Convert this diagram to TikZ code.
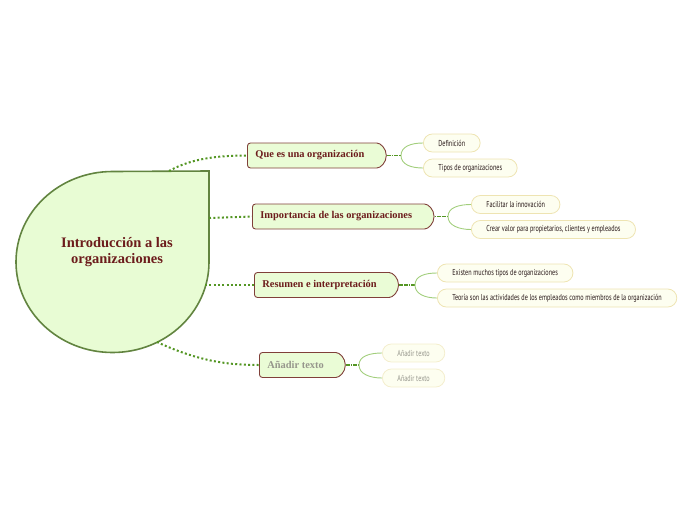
\documentclass[tikz,border=0pt]{standalone}
\usepackage{fontspec}
\setmainfont{Liberation Serif}
\newfontfamily\leaffont[FakeStretch=0.72]{PT Sans}
\usetikzlibrary{shapes.misc}

\definecolor{rootfill}{RGB}{232,252,212}
\definecolor{rootline}{RGB}{98,132,64}
\definecolor{topicfill}{RGB}{234,252,214}
\definecolor{topicline}{RGB}{128,64,58}
\definecolor{topictext}{RGB}{108,28,28}
\definecolor{dotgreen}{RGB}{84,150,36}
\definecolor{leaffill}{RGB}{253,254,240}
\definecolor{leafline}{RGB}{238,228,178}
\definecolor{leaftext}{RGB}{40,24,24}
\definecolor{forkgreen}{RGB}{162,206,124}
\definecolor{ghosttext}{RGB}{150,150,140}
\definecolor{ghostline}{RGB}{244,238,205}

\begin{document}
\begin{tikzpicture}[x=1pt, y=-1pt,
  topic/.style={rounded rectangle, rounded rectangle left arc=none, rounded corners=3pt,
    draw=topicline, line width=0.9pt, fill=topicfill, text=topictext,
    font=\fontsize{10.4}{12}\selectfont\bfseries, inner xsep=8pt, minimum height=25pt,
    anchor=west, execute at end node=\hspace{13pt}},
  leaf/.style={rectangle, rounded corners=9pt, draw=leafline, line width=0.8pt, fill=leaffill,
    text=leaftext, font=\leaffont\fontsize{8.6}{9}\selectfont, inner xsep=15pt,
    minimum height=18pt, inner ysep=0pt, anchor=west},
  ghostleaf/.style={leaf, draw=ghostline, text=ghosttext},
  dotlink/.style={draw=dotgreen, line width=2pt, dash pattern=on 2pt off 2.3pt},
  stublink/.style={draw=dotgreen, line width=1.8pt, dash pattern=on 1.8pt off 0.6pt},
  forklink/.style={draw=forkgreen, line width=0.9pt}]
  \useasboundingbox (0,0) rectangle (696,520);

  % central topic
  \draw[rootline, line width=1.6pt, fill=rootfill]
    (209,171) -- (209,262) arc (0:270:96.5 and 90.5) -- cycle;
  \node[text=topictext, font=\fontsize{14.5}{16.5}\selectfont\bfseries, align=center]
    (root) at (117,252) {Introducción a las\\organizaciones};
  \coordinate (r1) at (169,171);
  \coordinate (r2) at (209,218);
  \coordinate (r3) at (205,285);
  \coordinate (r4) at (157,342);

  % main topics
  \node[topic] (que) at (247,155.5) {Que es una organización};
  \node[topic] (imp) at (252,216.5) {Importancia de las organizaciones};
  \node[topic] (res) at (254,285) {Resumen e interpretación};
  \node[topic, text=ghosttext] (add) at (259,365) {Añadir texto};

  \draw[dotlink] (r1) .. controls (192,158) and (220,155.5) .. (que.west);
  \draw[dotlink] (r2) -- (imp.west);
  \draw[dotlink] (r3) -- (res.west);
  \draw[dotlink] (r4) .. controls (200,362) and (230,365) .. (add.west);

  % leaves
  \node[leaf] (def) at (423,143) {Definición};
  \node[leaf] (tip) at (423,168) {Tipos de organizaciones};
  \node[leaf] (fac) at (471,204.5) {Facilitar la innovación};
  \node[leaf] (cre) at (471,229.5) {Crear valor para propietarios, clientes y empleados};
  \node[leaf] (exi) at (437,273) {Existen muchos tipos de organizaciones};
  \node[leaf] (teo) at (437,298) {Teoría son las actividades de los empleados como miembros de la organización};
  \node[ghostleaf] (ad1) at (382,353) {Añadir texto};
  \node[ghostleaf] (ad2) at (382,378) {Añadir texto};

  \coordinate (f1) at (401,155.5);
  \coordinate (f2) at (448,216.5);
  \coordinate (f3) at (415,285);
  \coordinate (f4) at (359,365);

  \draw[stublink] (que.east) -- (f1);
  \draw[stublink] (imp.east) -- (f2);
  \draw[stublink] (res.east) -- (f3);
  \draw[stublink] (add.east) -- (f4);

  \draw[forklink] (f1) .. controls +(0,-9) and +(-12,0) .. (def.west);
  \draw[forklink] (f1) .. controls +(0,9) and +(-12,0) .. (tip.west);
  \draw[forklink] (f2) .. controls +(0,-9) and +(-12,0) .. (fac.west);
  \draw[forklink] (f2) .. controls +(0,9) and +(-12,0) .. (cre.west);
  \draw[forklink] (f3) .. controls +(0,-9) and +(-12,0) .. (exi.west);
  \draw[forklink] (f3) .. controls +(0,9) and +(-12,0) .. (teo.west);
  \draw[forklink] (f4) .. controls +(0,-9) and +(-12,0) .. (ad1.west);
  \draw[forklink] (f4) .. controls +(0,9) and +(-12,0) .. (ad2.west);
\end{tikzpicture}
\end{document}
